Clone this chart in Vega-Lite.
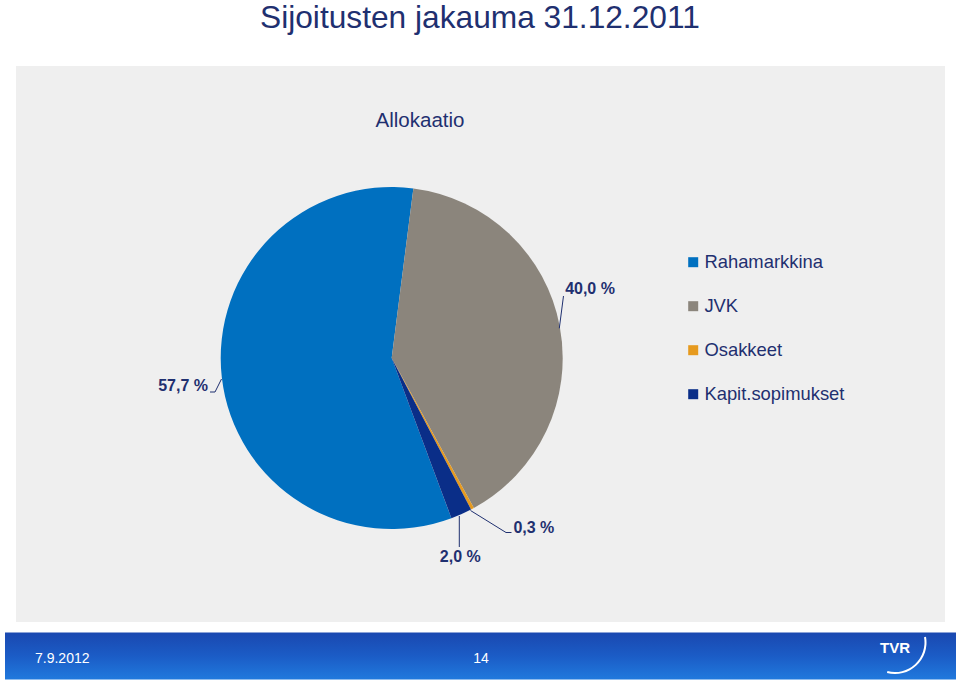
{
  "$schema": "https://vega.github.io/schema/vega-lite/v6.json",
  "width": 960,
  "height": 681,
  "autosize": "none",
  "padding": 0,
  "background": "white",
  "config": {
    "view": {"stroke": null},
    "font": "Liberation Sans",
    "locale": {"number": {"decimal": ",", "thousands": " ", "grouping": [3], "currency": ["", " %"]}}
  },
  "data": {"values": [
    {"nimi": "Rahamarkkina", "osuus": 57.7, "jarjestys": 1},
    {"nimi": "JVK", "osuus": 40.0, "jarjestys": 2},
    {"nimi": "Osakkeet", "osuus": 0.3, "jarjestys": 3},
    {"nimi": "Kapit.sopimukset", "osuus": 2.0, "jarjestys": 4}
  ]},
  "layer": [
    {
      "data": {"values": [{}]},
      "mark": {"type": "rect", "color": "#EFEFEF"},
      "encoding": {"x": {"value": 16}, "x2": {"value": 945}, "y": {"value": 66}, "y2": {"value": 622}}
    },
    {
      "data": {"values": [{}]},
      "mark": {"type": "rect", "color": {"gradient": "linear", "x1": 0, "y1": 0, "x2": 0, "y2": 1, "stops": [{"offset": 0, "color": "#1A48B0"}, {"offset": 0.5, "color": "#1B5CC6"}, {"offset": 1, "color": "#2079DD"}]}},
      "encoding": {"x": {"value": 5}, "x2": {"value": 956}, "y": {"value": 632.5}, "y2": {"value": 679.5}}
    },
    {
      "data": {"values": [{}]},
      "mark": {"type": "text", "text": "Sijoitusten jakauma 31.12.2011", "x": 260, "y": 28, "align": "left", "baseline": "alphabetic", "fontSize": 31.7, "color": "#1F3070"},
      "encoding": {}
    },
    {
      "data": {"values": [{}]},
      "mark": {"type": "text", "text": "Allokaatio", "x": 420, "y": 127, "align": "center", "baseline": "alphabetic", "fontSize": 20.5, "color": "#1F3070"},
      "encoding": {}
    },
    {
      "mark": {"type": "arc", "x": 391.7, "y": 358, "outerRadius": 171, "stroke": null},
      "encoding": {
        "theta": {"field": "osuus", "type": "quantitative", "stack": true, "scale": {"range": [2.785, 9.068]}},
        "order": {"field": "jarjestys", "type": "quantitative"},
        "color": {
          "field": "nimi", "type": "nominal",
          "scale": {"domain": ["Rahamarkkina", "JVK", "Osakkeet", "Kapit.sopimukset"], "range": ["#0070C0", "#8B857C", "#E69A1E", "#0A2E88"]},
          "legend": {"orient": "none", "legendX": 684, "legendY": 253, "title": null, "symbolType": "square", "symbolSize": 100, "symbolStrokeWidth": 0, "labelFontSize": 18.4, "labelColor": "#1F3070", "labelFont": "Liberation Sans", "rowPadding": 25, "labelOffset": 2, "padding": 0}
        }
      }
    },
    {
      "mark": {"type": "text", "x": 391.7, "y": 358, "radius": 210, "dx": -8, "dy": -30, "fontSize": 16, "fontWeight": "bold", "color": "#1F3070", "align": "center", "baseline": "middle"},
      "encoding": {
        "theta": {"field": "osuus", "type": "quantitative", "stack": true},
        "order": {"field": "jarjestys", "type": "quantitative"},
        "detail": {"field": "nimi", "type": "nominal"},
        "text": {"condition": {"test": "datum.nimi === 'JVK'", "field": "osuus", "type": "quantitative", "format": "$.1f"}, "value": ""}
      }
    },
    {
      "mark": {"type": "text", "x": 391.7, "y": 358, "radius": 210, "dx": 0, "dy": 4, "fontSize": 16, "fontWeight": "bold", "color": "#1F3070", "align": "center", "baseline": "middle"},
      "encoding": {
        "theta": {"field": "osuus", "type": "quantitative", "stack": true},
        "order": {"field": "jarjestys", "type": "quantitative"},
        "detail": {"field": "nimi", "type": "nominal"},
        "text": {"condition": {"test": "datum.nimi === 'Rahamarkkina'", "field": "osuus", "type": "quantitative", "format": "$.1f"}, "value": ""}
      }
    },
    {
      "mark": {"type": "text", "x": 391.7, "y": 358, "radius": 210, "dx": 43, "dy": -15, "fontSize": 16, "fontWeight": "bold", "color": "#1F3070", "align": "center", "baseline": "middle"},
      "encoding": {
        "theta": {"field": "osuus", "type": "quantitative", "stack": true},
        "order": {"field": "jarjestys", "type": "quantitative"},
        "detail": {"field": "nimi", "type": "nominal"},
        "text": {"condition": {"test": "datum.nimi === 'Osakkeet'", "field": "osuus", "type": "quantitative", "format": "$.1f"}, "value": ""}
      }
    },
    {
      "mark": {"type": "text", "x": 391.7, "y": 358, "radius": 210, "dx": -17, "dy": 7, "fontSize": 16, "fontWeight": "bold", "color": "#1F3070", "align": "center", "baseline": "middle"},
      "encoding": {
        "theta": {"field": "osuus", "type": "quantitative", "stack": true},
        "order": {"field": "jarjestys", "type": "quantitative"},
        "detail": {"field": "nimi", "type": "nominal"},
        "text": {"condition": {"test": "datum.nimi === 'Kapit.sopimukset'", "field": "osuus", "type": "quantitative", "format": "$.1f"}, "value": ""}
      }
    },
    {
      "data": {"values": [{}]},
      "mark": {"type": "rule", "color": "#1F3070", "strokeWidth": 1},
      "encoding": {"x": {"value": 559.3}, "y": {"value": 328.3}, "x2": {"value": 563.5}, "y2": {"value": 296}}
    },
    {
      "data": {"values": [{}]},
      "mark": {"type": "rule", "color": "#1F3070", "strokeWidth": 1},
      "encoding": {"x": {"value": 210}, "y": {"value": 392}, "x2": {"value": 215}, "y2": {"value": 392}}
    },
    {
      "data": {"values": [{}]},
      "mark": {"type": "rule", "color": "#1F3070", "strokeWidth": 1},
      "encoding": {"x": {"value": 215}, "y": {"value": 392}, "x2": {"value": 221.5}, "y2": {"value": 379}}
    },
    {
      "data": {"values": [{}]},
      "mark": {"type": "rule", "color": "#1F3070", "strokeWidth": 1},
      "encoding": {"x": {"value": 470.5}, "y": {"value": 510.5}, "x2": {"value": 506}, "y2": {"value": 532.5}}
    },
    {
      "data": {"values": [{}]},
      "mark": {"type": "rule", "color": "#1F3070", "strokeWidth": 1},
      "encoding": {"x": {"value": 506}, "y": {"value": 532.5}, "x2": {"value": 511.5}, "y2": {"value": 532.5}}
    },
    {
      "data": {"values": [{}]},
      "mark": {"type": "rule", "color": "#1F3070", "strokeWidth": 1},
      "encoding": {"x": {"value": 459.3}, "y": {"value": 516}, "x2": {"value": 459.3}, "y2": {"value": 547}}
    },
    {
      "data": {"values": [{}]},
      "mark": {"type": "text", "text": "7.9.2012", "x": 35, "y": 662.7, "align": "left", "baseline": "alphabetic", "fontSize": 14, "font": "Liberation Sans Narrow, Liberation Sans", "color": "white"},
      "encoding": {}
    },
    {
      "data": {"values": [{}]},
      "mark": {"type": "text", "text": "14", "x": 481, "y": 662.7, "align": "center", "baseline": "alphabetic", "fontSize": 14, "font": "Liberation Sans Narrow, Liberation Sans", "color": "white"},
      "encoding": {}
    },
    {
      "data": {"values": [{}]},
      "mark": {"type": "text", "text": "TVR", "x": 880, "y": 653, "align": "left", "baseline": "alphabetic", "fontSize": 15, "fontWeight": "bold", "color": "white"},
      "encoding": {}
    },
    {
      "data": {"values": [{}]},
      "mark": {"type": "arc", "x": 895, "y": 642.5, "theta": 1.39, "theta2": 3.4, "innerRadius": 29.5, "outerRadius": 31.5, "color": "white"},
      "encoding": {}
    }
  ]
}
